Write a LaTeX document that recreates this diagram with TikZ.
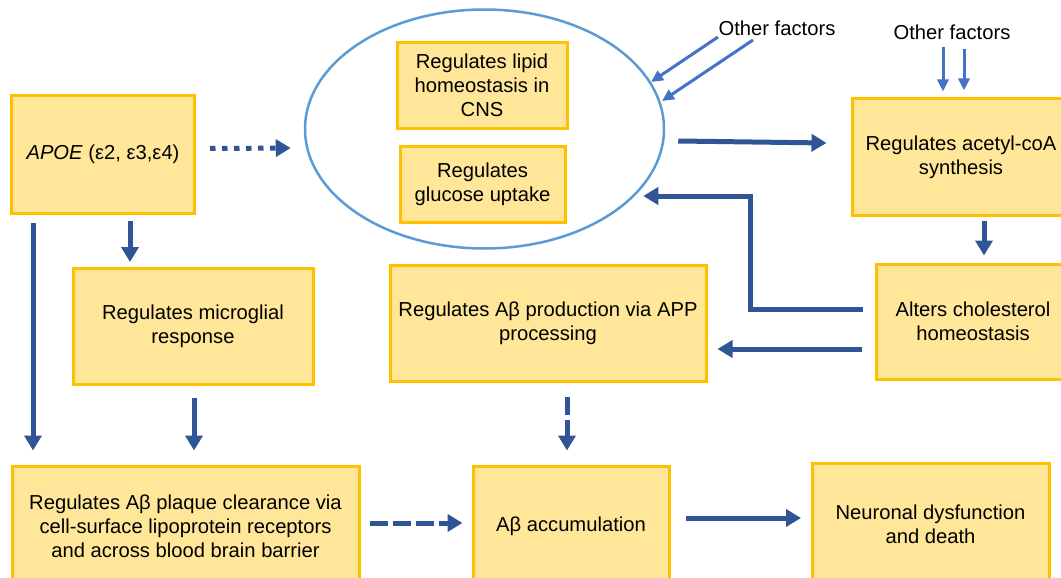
\documentclass[tikz,border=0pt]{standalone}
\usepackage{fontspec}
\setmainfont{Liberation Sans}
\usetikzlibrary{arrows.meta,shapes.geometric}
\definecolor{boxfill}{HTML}{FFE699}
\definecolor{boxline}{HTML}{FFC000}
\definecolor{arrblue}{HTML}{2F5597}
\definecolor{ellblue}{HTML}{5B9BD5}
\definecolor{facblue}{HTML}{4472C4}
\tikzset{
  txt/.style={font=\fontsize{20.2}{24}\selectfont, align=center, inner sep=0pt},
  box/.style={txt, draw=boxline, fill=boxfill, line width=3pt},
  arr/.style={draw=arrblue, line width=5pt, -{Triangle[length=15pt,width=17pt]}},
  dotarr/.style={arr, dash pattern=on 5.5pt off 6.5pt},
  dasharr/.style={arr, dash pattern=on 18pt off 5pt},
  facarr/.style={draw=facblue, line width=3pt, -{Triangle[length=12pt,width=11pt]}},
}
\begin{document}
\begin{tikzpicture}[x=1pt,y=-1pt]
\clip (0,0) rectangle (1061,578);
% ellipse
\node[draw=ellblue, line width=2.5pt, ellipse, minimum width=359pt, minimum height=239pt, inner sep=0pt] (ell) at (484.5,129) {};
% boxes
\node[box, minimum width=183pt, minimum height=117pt] (apoe) at (103,154.5) {\textit{APOE} (ε2, ε3,ε4)};
\node[box, minimum width=170pt, minimum height=85pt] (lipid) at (482,85.5) {Regulates lipid\\homeostasis in\\CNS};
\node[box, minimum width=165pt, minimum height=76pt] (gluc) at (482.5,184) {Regulates\\glucose uptake};
\node[box, minimum width=218pt, minimum height=116pt] (acetyl) at (961,157) {Regulates acetyl-coA\\synthesis};
\node[box, minimum width=240pt, minimum height=116pt] (mg) at (193,326.5) {Regulates microglial\\response};
\node[box, minimum width=316pt, minimum height=116pt] (prod) at (548,323) {Regulates Aβ production via APP\\processing};
\node[box, minimum width=194pt, minimum height=115pt] (chol) at (973,321.5) {Alters cholesterol\\homeostasis};
\node[box, minimum width=347pt, minimum height=120pt] (plaque) at (185.5,526) {Regulates Aβ plaque clearance via\\cell-surface lipoprotein receptors\\and across blood brain barrier};
\node[box, minimum width=196pt, minimum height=120pt] (accum) at (571,526) {Aβ accumulation};
\node[box, minimum width=237pt, minimum height=122pt] (neuro) at (930.5,524) {Neuronal dysfunction\\and death};
% labels
\node[txt] (of1) at (777,28) {Other factors};
\node[txt] (of2) at (952,32) {Other factors};
% connectors
\draw[dotarr] ([xshift=14pt,yshift=6pt]apoe.east) -- ([xshift=-13pt,yshift=-19pt]ell.west);
\draw[arr] ([xshift=27pt,yshift=-6pt]apoe.south) -- ([xshift=-63pt,yshift=5pt]mg.north);
\draw[arr] ([xshift=-70pt,yshift=-8pt]apoe.south) -- ([xshift=-152.5pt,yshift=14pt]plaque.north);
\draw[arr] ([xshift=1pt,yshift=-11.5pt]mg.south) -- ([xshift=8.5pt,yshift=14pt]plaque.north);
\draw[dasharr] ([xshift=19pt,yshift=-14pt]prod.south) -- ([xshift=-4pt,yshift=14pt]accum.north);
\draw[dasharr] ([xshift=9pt,yshift=3pt]plaque.east) -- ([xshift=-9pt,yshift=3pt]accum.west);
\draw[arr] ([xshift=15pt,yshift=8pt]accum.east) -- ([xshift=-9.5pt,yshift=6pt]neuro.west);
\draw[arr] ([xshift=13pt,yshift=-12pt]ell.east) -- ([xshift=-24pt,yshift=14pt]acetyl.west);
\draw[arr] ([xshift=23pt,yshift=-4pt]acetyl.south) -- ([xshift=11pt,yshift=7pt]chol.north);
\draw[arr] ([xshift=-12pt,yshift=12.5pt]chol.west) -- ++(-112,0) |- ([xshift=-22pt,yshift=-67pt]ell.east);
\draw[arr] ([xshift=-13pt,yshift=-27.5pt]chol.west) -- ([xshift=10pt,yshift=-26pt]prod.east);
\draw[facarr] ([xshift=-59pt,yshift=-9pt]of1.center) -- ([xshift=166.5pt,yshift=47pt]ell.center);
\draw[facarr] ([xshift=-24pt,yshift=-12pt]of1.center) -- ([xshift=177.5pt,yshift=28pt]ell.center);
\draw[facarr] ([xshift=-9pt,yshift=-15pt]of2.center) -- ([xshift=-18pt,yshift=6pt]acetyl.north);
\draw[facarr] ([xshift=12pt,yshift=-17pt]of2.center) -- ([xshift=3pt,yshift=7pt]acetyl.north);
\end{tikzpicture}
\end{document}
